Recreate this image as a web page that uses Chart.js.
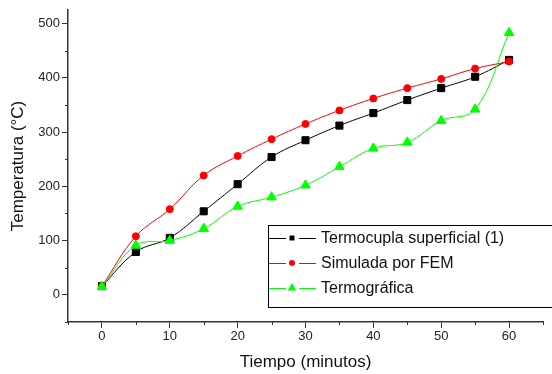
<!DOCTYPE html>
<html lang="es">
<head>
    <meta charset="UTF-8">
    <title>Temperatura vs Tiempo</title>
    <style>
        body {
            margin: 0;
            padding: 0;
            background-color: #fff;
        }
        #chart-container {
            position: relative;
            width: 552px;
            height: 374px;
        }
    </style>
    <script src="https://cdn.jsdelivr.net/npm/chart.js"></script>
</head>
<body>
    <div id="chart-container">
        <canvas id="line-chart" width="552" height="374"></canvas>
    </div>

    <script>
        // Datos
        const tiempo = [0, 5, 10, 15, 20, 25, 30, 35, 40, 45, 50, 55, 60];
        const termocupla = [16, 79, 105, 154, 204, 254, 285, 312, 335, 359, 381, 402, 433];
        const simuladaFem = [16, 108, 158, 220, 256, 287, 315, 340, 362, 381, 398, 417, 430];
        const termografica = [15, 91, 100, 122, 163, 180, 202, 236, 270, 281, 321, 342, 483];

        const xTicks = [0, 10, 20, 30, 40, 50, 60];
        const yTicks = [0, 100, 200, 300, 400, 500];
        const xMinorTicks = [-5, 5, 15, 25, 35, 45, 55, 65];
        const yMinorTicks = [-50, 50, 150, 250, 350, 450];

        const fontFamily = 'Arial, "Liberation Sans", sans-serif';

        function toPoints(ys) {
            return tiempo.map((t, i) => ({ x: t, y: ys[i] }));
        }

        // minor ticks, shorter than the major ones
        const minorTicksPlugin = {
            id: 'minorTicks',
            afterDraw(chart) {
                const ctx = chart.ctx;
                const xs = chart.scales.x;
                const ys = chart.scales.y;
                ctx.save();
                ctx.strokeStyle = '#333';
                ctx.lineWidth = 1;
                ctx.beginPath();
                xMinorTicks.forEach(v => {
                    const px = Math.round(xs.getPixelForValue(v)) + 0.5;
                    ctx.moveTo(px, xs.top);
                    ctx.lineTo(px, xs.top + 3);
                });
                yMinorTicks.forEach(v => {
                    const py = Math.round(ys.getPixelForValue(v)) + 0.5;
                    ctx.moveTo(ys.right, py);
                    ctx.lineTo(ys.right - 3, py);
                });
                ctx.stroke();
                ctx.restore();
            }
        };

        // legend box drawn inside the plot, like the original
        const boxLegendPlugin = {
            id: 'boxLegend',
            afterDraw(chart) {
                const ctx = chart.ctx;
                const left = 268, top = 225, width = 290, height = 82;
                ctx.save();
                ctx.fillStyle = '#fff';
                ctx.fillRect(left, top, width, height);
                ctx.strokeStyle = '#000';
                ctx.lineWidth = 1;
                ctx.strokeRect(left + 0.5, top + 0.5, width, height);
                ctx.font = '16px ' + fontFamily;
                ctx.textBaseline = 'middle';
                const sizes = [3.5, 3, 5];
                chart.data.datasets.forEach((ds, i) => {
                    const y = 238 + i * 25;
                    ctx.strokeStyle = ds.borderColor;
                    ctx.beginPath();
                    ctx.moveTo(left + 1, y + 0.5);
                    ctx.lineTo(left + 18, y + 0.5);
                    ctx.moveTo(left + 31, y + 0.5);
                    ctx.lineTo(left + 48, y + 0.5);
                    ctx.stroke();
                    ctx.fillStyle = ds.pointBackgroundColor;
                    Chart.helpers.drawPoint(ctx, {
                        pointStyle: ds.pointStyle,
                        radius: sizes[i],
                        rotation: 0,
                        borderWidth: 0
                    }, left + 24, y);
                    ctx.fillStyle = '#111';
                    ctx.fillText(ds.label, left + 53, y + 1);
                });
                ctx.restore();
            }
        };

        const ctx = document.getElementById('line-chart').getContext('2d');
        new Chart(ctx, {
            type: 'line',
            data: {
                datasets: [
                    {
                        label: 'Termocupla superficial (1)',
                        data: toPoints(termocupla),
                        borderColor: '#000',
                        pointBackgroundColor: '#000',
                        pointBorderColor: '#000',
                        pointStyle: 'rect',
                        pointRadius: 5,
                        borderWidth: 1,
                        tension: 0.4,
                        order: 3
                    },
                    {
                        label: 'Simulada por FEM',
                        data: toPoints(simuladaFem),
                        borderColor: '#ff0000',
                        pointBackgroundColor: '#ff0000',
                        pointBorderColor: '#ff0000',
                        pointStyle: 'circle',
                        pointRadius: 3.5,
                        borderWidth: 1,
                        tension: 0.4,
                        order: 2
                    },
                    {
                        label: 'Termográfica',
                        data: toPoints(termografica),
                        borderColor: '#00ff00',
                        pointBackgroundColor: '#00ff00',
                        pointBorderColor: '#00ff00',
                        pointStyle: 'triangle',
                        pointRadius: 5.5,
                        borderWidth: 1,
                        tension: 0.4,
                        order: 1
                    }
                ]
            },
            options: {
                responsive: false,
                animation: false,
                devicePixelRatio: 1,
                layout: { padding: { top: 10, right: 9, left: 0, bottom: 0 } },
                plugins: {
                    legend: { display: false },
                    tooltip: { enabled: false }
                },
                scales: {
                    x: {
                        type: 'linear',
                        min: -5,
                        max: 65,
                        afterBuildTicks: scale => { scale.ticks = xTicks.map(v => ({ value: v })); },
                        afterFit: scale => { scale.height = 52; },
                        grid: { drawOnChartArea: false, tickLength: 6, color: '#333' },
                        border: { color: '#333', width: 1.5 },
                        ticks: {
                            padding: 1,
                            color: '#222',
                            font: { family: fontFamily, size: 13 }
                        },
                        title: {
                            display: true,
                            text: 'Tiempo (minutos)',
                            color: '#111',
                            padding: { top: 0, bottom: 1 },
                            font: { family: fontFamily, size: 17 }
                        }
                    },
                    y: {
                        min: -50,
                        max: 525,
                        afterBuildTicks: scale => { scale.ticks = yTicks.map(v => ({ value: v })); },
                        afterFit: scale => { scale.width = 68; },
                        grid: { drawOnChartArea: false, tickLength: 6, color: '#333' },
                        border: { color: '#333', width: 1.5 },
                        ticks: {
                            padding: 2,
                            color: '#222',
                            font: { family: fontFamily, size: 13 }
                        },
                        title: {
                            display: true,
                            text: 'Temperatura (°C)',
                            color: '#111',
                            padding: { top: 8, bottom: 0 },
                            font: { family: fontFamily, size: 17 }
                        }
                    }
                }
            },
            plugins: [minorTicksPlugin, boxLegendPlugin]
        });
    </script>
</body>
</html>
